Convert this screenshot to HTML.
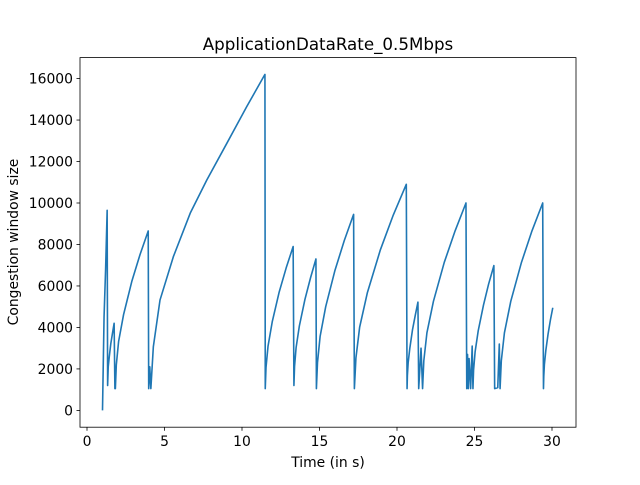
<!DOCTYPE html>
<html><head><meta charset="utf-8"><style>
body{margin:0;background:#fff;}
svg text{font-family:"DejaVu Sans","Liberation Sans",sans-serif;fill:#000;}
</style></head><body>
<svg id="chart" width="640" height="480" xmlns="http://www.w3.org/2000/svg">
<rect width="640" height="480" fill="#fff"/>
<text x="328" y="50" font-size="16.7" text-anchor="middle">ApplicationDataRate_0.5Mbps</text>
<g id="xt"></g>
<g id="yt"></g>
<path id="line" fill="none" stroke="#1f77b4" stroke-width="1.6" stroke-linejoin="round"/>
<rect x="80" y="57.6" width="496" height="369.6" fill="none" stroke="#000" stroke-width="0.8"/>
<text x="328" y="467" font-size="13.9" text-anchor="middle">Time (in s)</text>
<text transform="translate(18,242) rotate(-90)" font-size="13.9" text-anchor="middle">Congestion window size</text>
</svg>
<script>
const times=[1.0,1.1,1.2,1.3,
1.33,1.35,1.37,1.44,1.54,1.65,1.75,
1.8,1.83,1.89,2.04,2.36,2.89,3.42,3.95,
3.98,4.05,4.12,
4.28,4.71,5.57,6.66,7.73,9.03,10.3,11.48,
11.5,11.55,11.68,11.95,12.4,12.85,13.3,
13.35,13.39,13.49,13.7,14.06,14.42,14.77,
14.8,14.87,15.04,15.4,16.0,16.6,17.2,
17.25,17.35,17.59,18.09,18.93,19.76,20.6,
20.65,20.67,20.72,20.83,21.0,21.18,21.35,
21.4,21.55,
21.65,21.73,21.93,22.35,23.05,23.75,24.45,
24.5,24.55,24.6,24.65,24.75,24.85,
24.9,24.94,25.04,25.24,25.58,25.91,26.25,
26.3,26.5,26.6,
26.65,26.73,26.93,27.34,28.03,28.71,29.4,
29.45,29.47,29.51,29.6,29.75,29.9,30.05];
const values=[0,4500,6800,9650,
1200,1650,2100,2610,3240,3750,4200,
1050,1050,2190,3330,4620,6220,7510,8650,
1050,2100,1050,
3070,5320,7410,9510,11110,12890,14640,16200,
1050,2080,3100,4270,5710,6870,7900,
1200,2120,3030,4070,5350,6390,7300,
1050,2310,3570,5000,6760,8190,9450,
1050,2530,4010,5680,7750,9420,10900,
1050,1680,2300,3010,3890,4590,5220,
1050,3000,
1050,2390,3740,5260,7140,8660,10000,
1050,2700,1050,2500,1050,3100,
1050,1940,2830,3840,5080,6090,6980,
1050,1100,3200,
1050,2390,3740,5260,7140,8660,10000,
1050,1640,2220,2880,3700,4370,4950];
const xTicks=[0,5,10,15,20,25,30];
const yTicks=[0,2000,4000,6000,8000,10000,12000,14000,16000];
const X=t=>87+t*15.5;
const Y=v=>410.4-v*0.02074;
const NS="http://www.w3.org/2000/svg";
let d="";
for(let i=0;i<times.length;i++){d+=(i?"L":"M")+X(times[i]).toFixed(2)+","+Y(values[i]).toFixed(2);}
document.getElementById("line").setAttribute("d",d);
const xt=document.getElementById("xt");
xTicks.forEach(t=>{
 const l=document.createElementNS(NS,"line");
 l.setAttribute("x1",X(t));l.setAttribute("x2",X(t));l.setAttribute("y1",427.2);l.setAttribute("y2",430.7);
 l.setAttribute("stroke","#000");l.setAttribute("stroke-width","0.8");
 
 
 xt.appendChild(l);
 const tx=document.createElementNS(NS,"text");
 tx.setAttribute("x",X(t));tx.setAttribute("y",446);tx.setAttribute("font-size","13.9");tx.setAttribute("text-anchor","middle");
 tx.textContent=t;
 
 
 xt.appendChild(tx);
});
const yt=document.getElementById("yt");
yTicks.forEach(v=>{
 const l=document.createElementNS(NS,"line");
 l.setAttribute("x1",76.5);l.setAttribute("x2",80);l.setAttribute("y1",Y(v));l.setAttribute("y2",Y(v));
 l.setAttribute("stroke","#000");l.setAttribute("stroke-width","0.8");
 
 
 yt.appendChild(l);
 const tx=document.createElementNS(NS,"text");
 tx.setAttribute("x",73);tx.setAttribute("y",Y(v)+5);tx.setAttribute("font-size","13.9");tx.setAttribute("text-anchor","end");
 tx.textContent=v;
 
 
 yt.appendChild(tx);
});
</script>
</body></html>
